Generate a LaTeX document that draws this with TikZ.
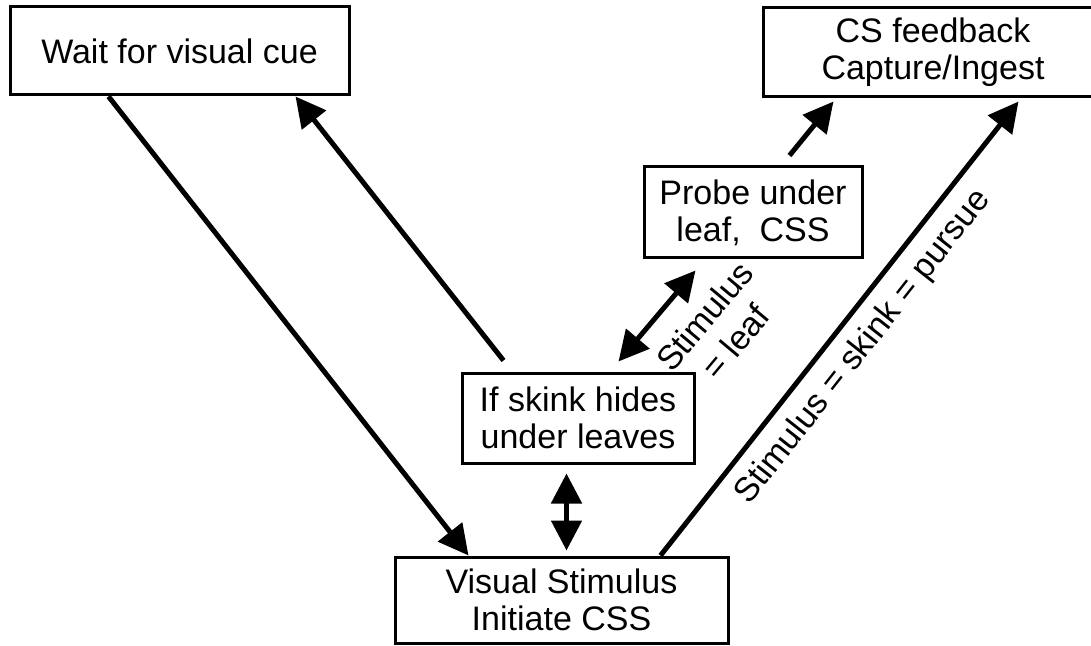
\documentclass[tikz,border=0pt]{standalone}
\usepackage{fontspec}
\setmainfont{Liberation Sans}
\usetikzlibrary{arrows.meta,calc}
\begin{document}
\begin{tikzpicture}[x=0.5pt,y=-0.5pt,
  box/.style={draw, line width=1.5pt, align=center, inner sep=0pt,
              font=\fontsize{17}{18.5}\selectfont},
  arr/.style={line width=2.5pt, -{Triangle[length=15pt,width=15pt]}},
  dbl/.style={line width=2.5pt, {Triangle[length=15pt,width=15pt]}-{Triangle[length=15pt,width=15pt]}},
  lbl/.style={font=\fontsize{17}{20}\selectfont, align=center, inner sep=0pt}]
\useasboundingbox (0,0) rectangle (1091,646);

% boxes
\node[box, minimum width=169.5pt, minimum height=44pt]   (wait)  at (179.5,51)  {Wait for visual cue};
\node[box, minimum width=170pt,   minimum height=44.5pt] (cs)    at (933,52.5)  {CS feedback\\Capture/Ingest};
\node[box, minimum width=109pt,   minimum height=45.5pt] (probe) at (753,212.5) {Probe under\\leaf,\ \ CSS};
\node[box, minimum width=116pt,   minimum height=45pt]   (skink) at (578,418)   {If skink hides\\under leaves};
\node[box, minimum width=166.5pt, minimum height=43pt]   (vis)   at (561.5,600) {Visual Stimulus\\Initiate CSS};

% connectors
\draw[arr] ($(wait.south west)+(100,0)$) -- ($(vis.north west)+(75,0)$);
\draw[arr] ($(skink.north west)+(43,-11)$) -- ($(wait.south west)+(287,0)$);
\draw[dbl] ($(skink.north west)+(158,-10)$) -- ($(probe.south west)+(53,11)$);
\draw[dbl] ($(skink.south west)+(106,9)$) -- ($(vis.north west)+(173,-5)$);
\draw[arr] ($(probe.north west)+(147,-10)$) -- ($(cs.south west)+(72,3)$);
\draw[arr] ($(vis.north west)+(267,0)$) -- ($(cs.south west)+(257,3)$)
  node[lbl, midway, sloped, below=6pt] (pursue) {Stimulus = skink = pursue};

% label of the leaf branch
\node[lbl, rotate=50] (leaf) at (720,329) {Stimulus\\= leaf};
\end{tikzpicture}
\end{document}
